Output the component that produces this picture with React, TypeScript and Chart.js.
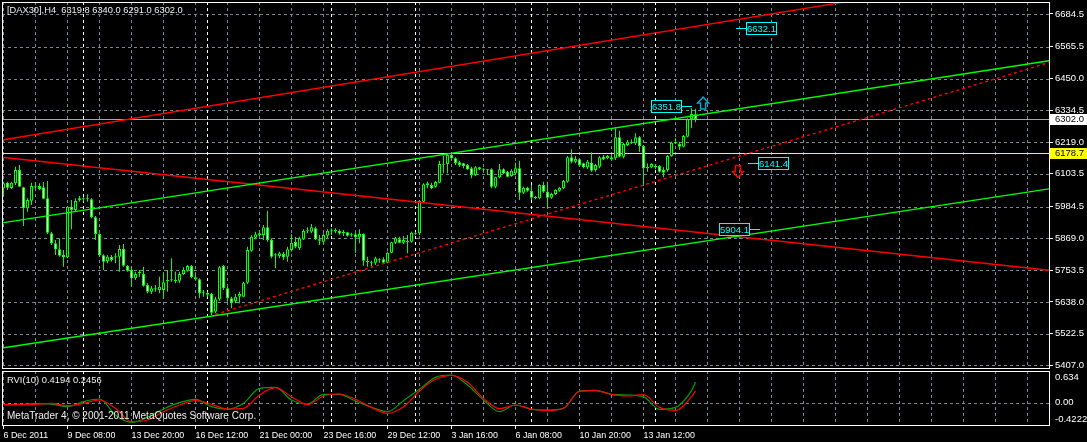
import React, { useEffect, useRef } from "react";
import { Chart, registerables } from "chart.js";

Chart.register(...registerables);

// ---------------- data ----------------
const symbolTitle = "[DAX30],H4  6319.8 6340.0 6291.0 6302.0";
const rviTitle = "RVI(10) 0.4194 0.2456";
const copyright = "MetaTrader 4, \u00a9 2001-2011 MetaQuotes Software Corp.";

const openP = [
  6050.8, 6071.4, 6052.0, 6069.0, 6117.4, 6054.4, 5978.1, 6006.0, 6059.3, 6059.3,
  6054.4, 6014.5, 5887.2, 5850.9, 5829.1, 5808.5, 5800.0, 5984.2, 5972.0, 6008.4,
  6013.2, 6010.8, 6010.8, 5945.4, 5884.8, 5807.3, 5786.6, 5802.4, 5802.4, 5802.4,
  5830.3, 5768.5, 5753.9, 5723.6, 5743.0, 5739.4, 5699.4, 5675.2, 5686.1, 5681.2,
  5681.2, 5712.7, 5718.8, 5716.4, 5715.2, 5739.4, 5751.5, 5768.5, 5727.3, 5720.0,
  5671.5, 5671.5, 5666.7, 5602.5, 5647.3, 5768.5, 5687.3, 5650.9, 5641.2, 5657.0,
  5657.0, 5707.9, 5824.2, 5871.5, 5881.2, 5881.2, 5909.0, 5863.0, 5807.3, 5804.8,
  5812.1, 5802.4, 5826.6, 5856.9, 5832.7, 5865.4, 5896.9, 5893.3, 5905.4, 5865.4,
  5856.9, 5878.7, 5896.9, 5895.7, 5895.7, 5888.4, 5890.8, 5879.9, 5883.6, 5872.7,
  5884.8, 5785.4, 5783.0, 5780.6, 5792.7, 5792.7, 5780.6, 5816.9, 5853.3, 5865.4,
  5853.3, 5858.1, 5856.9, 5888.4, 5887.2, 6002.3, 6068.9, 6062.9, 6056.8, 6071.4,
  6139.2, 6139.2, 6171.9, 6159.8, 6145.3, 6141.6, 6135.6, 6123.5, 6099.2, 6127.1,
  6121.0, 6118.6, 6119.8, 6056.8, 6090.8, 6119.8, 6111.4, 6095.6, 6105.3, 6123.5,
  6035.0, 6053.2, 6042.3, 6018.0, 6014.4, 6062.9, 6038.6, 6016.8, 6030.2, 6042.3,
  6050.8, 6075.0, 6163.5, 6147.7, 6156.2, 6141.6, 6127.1, 6144.1, 6117.4, 6129.5,
  6165.9, 6159.8, 6163.5, 6159.8, 6236.2, 6165.9, 6208.3, 6219.2, 6214.3, 6236.2,
  6204.6, 6124.7, 6127.1, 6130.7, 6131.9, 6117.4, 6117.4, 6168.3, 6215.6, 6211.9,
  6202.2, 6238.6, 6301.6, 6319.8,
];
const highP = [
  6075.0, 6075.0, 6075.0, 6129.6, 6135.6, 6056.9, 6014.5, 6071.4, 6071.4, 6069.0,
  6073.8, 6077.5, 5893.3, 5863.0, 5869.0, 5826.6, 5986.6, 6008.4, 6014.5, 6022.9,
  6018.1, 6029.0, 6014.5, 5950.2, 5887.2, 5810.9, 5808.5, 5808.5, 5814.5, 5844.8,
  5848.5, 5772.1, 5766.1, 5747.9, 5753.9, 5766.1, 5705.5, 5695.8, 5699.4, 5729.7,
  5741.8, 5753.9, 5796.3, 5747.9, 5747.9, 5763.6, 5772.1, 5772.1, 5735.8, 5723.6,
  5681.2, 5675.2, 5671.5, 5657.0, 5768.5, 5772.1, 5693.4, 5657.0, 5666.7, 5675.2,
  5711.5, 5838.8, 5881.2, 5893.3, 5899.3, 5917.5, 5969.6, 5869.0, 5814.5, 5820.6,
  5820.6, 5838.8, 5884.8, 5875.1, 5875.1, 5901.8, 5909.0, 5921.1, 5911.4, 5881.1,
  5887.2, 5901.8, 5905.4, 5905.4, 5901.8, 5899.3, 5893.3, 5889.6, 5889.6, 5901.8,
  5887.2, 5802.4, 5787.8, 5802.4, 5796.3, 5799.9, 5820.6, 5856.9, 5875.1, 5875.1,
  5877.5, 5881.1, 5893.3, 5892.1, 6008.4, 6068.9, 6075.0, 6071.4, 6078.6, 6151.3,
  6168.3, 6178.0, 6178.0, 6163.5, 6151.3, 6144.1, 6139.2, 6129.5, 6132.0, 6129.5,
  6123.5, 6121.0, 6123.5, 6093.2, 6139.2, 6123.5, 6115.0, 6119.8, 6144.1, 6151.3,
  6056.8, 6056.8, 6062.9, 6022.9, 6065.3, 6075.0, 6075.0, 6035.0, 6047.1, 6056.8,
  6081.1, 6168.3, 6192.5, 6168.3, 6159.8, 6144.1, 6153.8, 6181.6, 6139.2, 6168.3,
  6171.9, 6171.9, 6171.9, 6268.9, 6260.4, 6216.8, 6226.5, 6228.9, 6250.7, 6241.0,
  6208.3, 6141.6, 6141.6, 6139.2, 6135.6, 6127.1, 6171.9, 6220.4, 6232.5, 6220.4,
  6244.6, 6305.2, 6341.6, 6340.0,
];
const lowP = [
  6020.5, 6044.7, 6048.4, 6062.9, 6056.9, 5913.9, 5966.0, 5990.2, 6044.7, 6044.7,
  6010.8, 5884.8, 5844.8, 5808.5, 5802.4, 5766.1, 5796.3, 5901.8, 5966.0, 6002.3,
  6002.3, 6002.3, 5941.7, 5863.0, 5802.4, 5753.9, 5778.2, 5784.2, 5778.2, 5747.9,
  5766.1, 5747.9, 5693.4, 5717.6, 5729.7, 5693.4, 5669.1, 5666.7, 5675.2, 5669.1,
  5650.9, 5675.2, 5711.5, 5705.5, 5705.5, 5735.8, 5747.9, 5723.6, 5717.6, 5650.9,
  5657.0, 5657.0, 5590.4, 5596.4, 5642.5, 5681.2, 5638.8, 5614.6, 5632.8, 5632.8,
  5654.6, 5703.0, 5820.6, 5865.4, 5877.5, 5863.0, 5856.9, 5796.3, 5760.0, 5796.3,
  5790.3, 5784.2, 5820.6, 5832.7, 5826.6, 5863.0, 5887.2, 5887.2, 5863.0, 5844.8,
  5844.8, 5869.0, 5881.1, 5887.2, 5881.1, 5877.5, 5875.1, 5875.1, 5816.9, 5850.8,
  5769.7, 5766.0, 5766.0, 5772.1, 5780.6, 5775.7, 5778.1, 5814.5, 5848.4, 5850.8,
  5848.4, 5814.5, 5853.3, 5881.1, 5881.1, 5998.7, 6050.8, 6047.1, 6053.2, 6068.9,
  6105.3, 6105.3, 6156.2, 6135.6, 6129.5, 6123.5, 6117.4, 6087.1, 6095.6, 6117.4,
  6111.4, 6099.2, 6050.8, 6050.8, 6087.1, 6102.9, 6090.8, 6093.2, 6099.2, 6008.4,
  6030.2, 6038.6, 6008.4, 6010.8, 6010.8, 6035.0, 5978.1, 6013.2, 6026.5, 6038.6,
  6047.1, 6071.4, 6141.6, 6141.6, 6129.5, 6123.5, 6121.0, 6111.4, 6111.4, 6123.5,
  6153.8, 6156.2, 6151.3, 6153.8, 6163.5, 6159.8, 6204.6, 6211.9, 6208.3, 6184.1,
  6059.2, 6111.4, 6123.5, 6119.8, 6107.7, 6090.8, 6111.4, 6165.9, 6211.9, 6190.1,
  6199.8, 6236.2, 6268.9, 6291.0,
];
const closeP = [
  6069.0, 6053.2, 6071.4, 6117.4, 6056.9, 5978.1, 6008.4, 6059.3, 6056.9, 6048.4,
  6013.2, 5889.6, 5850.9, 5829.1, 5806.1, 5800.0, 5984.2, 5972.0, 6004.8, 6014.5,
  6010.8, 6013.2, 5945.4, 5884.8, 5807.3, 5784.2, 5802.4, 5790.3, 5804.8, 5830.3,
  5769.7, 5751.5, 5723.6, 5739.4, 5745.5, 5697.0, 5675.2, 5687.3, 5688.5, 5693.4,
  5709.1, 5717.6, 5716.4, 5713.9, 5739.4, 5753.9, 5768.5, 5727.3, 5720.0, 5669.1,
  5674.0, 5664.3, 5598.8, 5647.3, 5763.6, 5687.3, 5650.9, 5635.2, 5657.0, 5666.7,
  5707.9, 5826.6, 5875.1, 5883.6, 5887.2, 5909.0, 5863.0, 5802.4, 5809.7, 5814.5,
  5800.0, 5829.1, 5853.3, 5838.8, 5869.0, 5895.7, 5899.3, 5909.0, 5865.4, 5860.5,
  5881.1, 5896.9, 5894.5, 5899.3, 5887.2, 5890.8, 5878.7, 5882.3, 5872.7, 5884.8,
  5787.8, 5783.0, 5780.6, 5796.3, 5789.0, 5780.6, 5816.9, 5854.5, 5869.0, 5853.3,
  5863.0, 5855.7, 5889.6, 5886.0, 6004.7, 6065.3, 6062.9, 6050.8, 6073.8, 6139.2,
  6136.8, 6171.9, 6159.8, 6141.6, 6135.6, 6132.0, 6119.8, 6099.2, 6127.1, 6119.8,
  6118.6, 6116.2, 6056.8, 6090.8, 6119.8, 6105.3, 6093.2, 6115.0, 6123.5, 6035.0,
  6053.2, 6042.3, 6016.8, 6015.6, 6062.9, 6038.6, 6016.8, 6030.2, 6044.7, 6053.2,
  6077.4, 6163.5, 6147.7, 6157.4, 6135.6, 6127.1, 6147.7, 6115.0, 6135.6, 6163.5,
  6156.2, 6168.3, 6156.2, 6236.2, 6165.9, 6211.9, 6220.4, 6216.8, 6236.2, 6204.6,
  6123.5, 6127.1, 6139.2, 6128.3, 6111.4, 6107.7, 6168.3, 6216.8, 6218.0, 6202.2,
  6241.0, 6301.6, 6321.0, 6302.0,
];

const priceTicks = [6684.5, 6565.5, 6450.0, 6334.5, 6219.0, 6103.5, 5984.5, 5869.0, 5753.5, 5638.0, 5522.5, 5407.0];
const priceMin = 5397.7;
const priceMax = 6728.1;
const barMin = -0.375;
const barMax = 261.375;

const timeLabelBars = [0, 16, 32, 48, 64, 80, 96, 112, 128, 144, 160];
const timeLabels = [
  "6 Dec 2011", "9 Dec 08:00", "13 Dec 20:00", "16 Dec 12:00", "21 Dec 00:00", "23 Dec 16:00",
  "29 Dec 12:00", "3 Jan 16:00", "6 Jan 08:00", "10 Jan 20:00", "13 Jan 12:00",
];
const separatorBars = [20, 51, 82, 103, 132, 163];
const gridStepBars = 8;

const bidPrice = 6302.0;
const levelPrice = 6178.7;

// trend lines: start/end in (bar, price)
const trendStartBar = [-0.375, -0.375, -0.375, -0.375, 53];
const trendStartPrice = [6226.6, 5925.2, 5470.4, 6164.0, 5592.6];
const trendEndBar = [261.375, 261.375, 261.375, 261.375, 261.375];
const trendEndPrice = [6849.9, 6514.4, 6048.7, 5752.9, 6507.8];

// price labels (text boxes)
const priceLabelValues = [6632.1, 6351.8, 6141.4, 5904.1];
const priceLabelBars = [183.1, 172.1, 186.1, 189.1];
const priceLabelSide = [1, -1, 1, -1];

// arrows
const arrowBars = [174.9, 183.6];
const arrowPrices = [6361.0, 6112.0];
const arrowUp = [true, false];

// RVI(10)
const rviBars = [0, 4, 8, 12, 16, 20, 24, 28, 32, 36, 40, 44, 48, 52, 56, 60, 64, 68, 72, 76, 80, 84, 88, 92, 96, 100, 104, 108, 112, 116, 120, 124, 128, 132, 136, 140, 144, 148, 152, 156, 160, 164, 168, 172, 173];
const rviMain = [-0.025, -0.018, -0.005, -0.012, -0.064, 0.034, 0.086, -0.23, -0.370, -0.272, -0.109, 0.015, 0.080, -0.064, -0.116, 0.002, 0.295, 0.315, 0.067, -0.012, 0.178, 0.178, 0.047, -0.077, -0.161, 0.054, 0.275, 0.510, 0.556, 0.360, 0.067, -0.161, -0.031, -0.116, -0.129, -0.096, 0.243, 0.256, 0.178, 0.165, 0.132, -0.116, -0.077, 0.249, 0.4194];
const rviSignal = [-0.025, -0.025, -0.018, 0.002, -0.044, 0.002, 0.067, -0.096, -0.357, -0.324, -0.161, -0.031, 0.054, -0.018, -0.109, -0.096, 0.165, 0.308, 0.132, -0.025, 0.145, 0.184, 0.080, -0.077, -0.194, -0.064, 0.243, 0.471, 0.549, 0.412, 0.099, -0.103, -0.031, -0.109, -0.142, -0.096, 0.236, 0.249, 0.178, 0.145, 0.171, -0.077, -0.135, 0.132, 0.2456];
const rviMax = 0.634;
const rviMin = -0.4222;
const rviLabels = ["0.634", "0.00", "-0.4222"];

// ---------------- style ----------------
const W = 1087;
const MAIN_H = 369;
const SUB_TOP = 369;
const SUB_H = 73;
const AXIS_W = 38;
const FONT = "'Liberation Sans', Arial, sans-serif";
const LIME = "#00ff00";
const GRID = "#778899";
const TEXT = "#ffffff";
const DASH = [3, 3];
const BULL_FILL = "#000000";
const BEAR_FILL = "#ffffff";
const trendColors = ["#ff0000", "#00ff00", "#00ff00", "#ff0000", "#ff0000"];
const trendDash = [[], [], [], [], [3, 3]];
const labelColor = "#00ffff";
const arrowColors = ["#00a8d8", "#ff0000"];

function clipArea(ctx: any, a: any) {
  ctx.beginPath();
  ctx.rect(a.left, a.top, a.right - a.left, a.bottom - a.top);
  ctx.clip();
}

function drawGuides(chart: any, hValues: number[]) {
  const { ctx, chartArea: a, scales } = chart;
  const xs = scales.x;
  const ys = scales.y;
  ctx.save();
  clipArea(ctx, a);
  ctx.lineWidth = 1;
  ctx.setLineDash(DASH);
  ctx.strokeStyle = GRID;
  for (const v of hValues) {
    const py = Math.round(ys.getPixelForValue(v)) + 0.5;
    ctx.beginPath();
    ctx.moveTo(a.left, py);
    ctx.lineTo(a.right, py);
    ctx.stroke();
  }
  for (let b = 0; b <= xs.max; b += gridStepBars) {
    const px = Math.floor(xs.getPixelForValue(b)) + 0.5;
    ctx.beginPath();
    ctx.moveTo(px, a.top);
    ctx.lineTo(px, a.bottom);
    ctx.stroke();
  }
  ctx.strokeStyle = "#ffffff";
  for (const b of separatorBars) {
    const px = Math.floor(xs.getPixelForValue(b)) + 0.5;
    ctx.beginPath();
    ctx.moveTo(px, a.top);
    ctx.lineTo(px, a.bottom);
    ctx.stroke();
  }
  ctx.restore();
}

function drawBorder(chart: any) {
  const { ctx, chartArea: a } = chart;
  ctx.save();
  ctx.strokeStyle = "#ffffff";
  ctx.lineWidth = 1;
  ctx.setLineDash([]);
  ctx.strokeRect(a.left + 0.5, a.top + 0.5, a.right - a.left, a.bottom - a.top);
  ctx.restore();
}

function drawArrow(ctx: any, cx: number, cy: number, up: boolean, color: string) {
  const s = up ? 1 : -1;
  const total = 12;
  const head = 6;
  const hw = 5.5;
  const sw = 2.5;
  const top = cy - (s * total) / 2;
  ctx.beginPath();
  ctx.moveTo(cx, top);
  ctx.lineTo(cx + hw, top + s * head);
  ctx.lineTo(cx + sw, top + s * head);
  ctx.lineTo(cx + sw, top + s * total);
  ctx.lineTo(cx - sw, top + s * total);
  ctx.lineTo(cx - sw, top + s * head);
  ctx.lineTo(cx - hw, top + s * head);
  ctx.closePath();
  ctx.lineWidth = 1.5;
  ctx.strokeStyle = color;
  ctx.stroke();
}

const mainPlugin = {
  id: "mt4main",
  beforeDraw(chart: any) {
    const { ctx, width, height } = chart;
    ctx.save();
    ctx.fillStyle = "#000000";
    ctx.fillRect(0, 0, width, height);
    ctx.restore();
  },
  beforeDatasetsDraw(chart: any) {
    drawGuides(chart, priceTicks);
    const { ctx, chartArea: a, scales } = chart;
    ctx.save();
    clipArea(ctx, a);
    ctx.lineWidth = 1;
    let py = Math.round(scales.y.getPixelForValue(bidPrice)) + 0.5;
    ctx.strokeStyle = "#a0a8b0";
    ctx.beginPath(); ctx.moveTo(a.left, py); ctx.lineTo(a.right, py); ctx.stroke();
    py = Math.round(scales.y.getPixelForValue(levelPrice)) + 0.5;
    ctx.strokeStyle = "#ffff00";
    ctx.beginPath(); ctx.moveTo(a.left, py); ctx.lineTo(a.right, py); ctx.stroke();
    ctx.restore();
  },
  afterDraw(chart: any) {
    const { ctx, chartArea: a, scales } = chart;
    const xs = scales.x;
    const ys = scales.y;
    ctx.save();
    clipArea(ctx, a);
    ctx.font = `9.5px ${FONT}`;
    ctx.textAlign = "center";
    ctx.textBaseline = "middle";
    priceLabelValues.forEach((v, i) => {
      const ax = Math.round(xs.getPixelForValue(priceLabelBars[i]));
      const ay = Math.round(ys.getPixelForValue(v)) + 0.5;
      const bw = 31, bh = 12, gap = 10;
      const side = priceLabelSide[i];
      const bx = side > 0 ? ax + gap : ax - gap - bw;
      ctx.strokeStyle = labelColor;
      ctx.lineWidth = 1;
      ctx.beginPath();
      ctx.moveTo(ax, ay);
      ctx.lineTo(side > 0 ? bx : bx + bw, ay);
      ctx.stroke();
      ctx.fillStyle = "#000000";
      ctx.fillRect(bx, ay - bh / 2, bw, bh);
      ctx.strokeRect(bx + 0.5, ay - bh / 2, bw - 1, bh);
      ctx.fillStyle = labelColor;
      ctx.fillText(v.toFixed(1), bx + bw / 2, ay + 0.5);
    });
    arrowBars.forEach((b, i) => {
      drawArrow(ctx, xs.getPixelForValue(b), ys.getPixelForValue(arrowPrices[i]), arrowUp[i], arrowColors[i]);
    });
    ctx.restore();

    drawBorder(chart);

    ctx.save();
    ctx.font = `9.3px ${FONT}`;
    ctx.fillStyle = "#f0f0f0";
    ctx.textAlign = "left";
    ctx.textBaseline = "middle";
    ctx.fillText(symbolTitle, 7, 10.5);

    const markers = [
      { v: bidPrice, bg: "#ffffff" },
      { v: levelPrice, bg: "#ffff00" },
    ];
    ctx.font = `9.5px ${FONT}`;
    for (const m of markers) {
      const py = Math.round(ys.getPixelForValue(m.v));
      ctx.fillStyle = m.bg;
      ctx.fillRect(a.right + 1, py - 5, W - a.right - 1, 11);
      ctx.fillStyle = "#000000";
      ctx.fillText(m.v.toFixed(1), a.right + 6, py + 0.5);
    }
    ctx.restore();
  },
};

const subPlugin = {
  id: "mt4sub",
  beforeDraw(chart: any) {
    const { ctx, width, height } = chart;
    ctx.save();
    ctx.fillStyle = "#000000";
    ctx.fillRect(0, 0, width, height);
    ctx.restore();
  },
  beforeDatasetsDraw(chart: any) {
    drawGuides(chart, [0]);
  },
  afterDraw(chart: any) {
    const { ctx, chartArea: a, scales } = chart;
    drawBorder(chart);
    ctx.save();
    ctx.textAlign = "left";
    ctx.textBaseline = "middle";
    ctx.fillStyle = "#f0f0f0";
    ctx.font = `9.4px ${FONT}`;
    ctx.fillText(rviTitle, 7, a.top + 9.5);
    ctx.font = `10px ${FONT}`;
    ctx.fillText(copyright, 7, a.bottom - 8.5);
    ctx.font = `9.5px ${FONT}`;
    ctx.fillStyle = TEXT;
    const lx = a.right + 6;
    ctx.fillText(rviLabels[0], lx, a.top + 6.5);
    ctx.fillText(rviLabels[1], lx, scales.y.getPixelForValue(0) - 1);
    ctx.fillText(rviLabels[2], lx, a.bottom - 6);
    ctx.restore();
  },
};

function MainChart() {
  const ref = useRef<HTMLCanvasElement>(null);
  useEffect(() => {
    const canvas = ref.current;
    if (!canvas) return;
    const idx = openP.map((_, i) => i);
    const bodies = idx.map((i) => ({ x: i, y: [openP[i], closeP[i]] }));
    const wicks = idx.map((i) => ({ x: i, y: [lowP[i], highP[i]] }));
    const bodyFill = idx.map((i) => (closeP[i] >= openP[i] ? BULL_FILL : BEAR_FILL));
    const trendSets: any[] = trendStartBar.map((sb, k) => ({
      type: "line",
      data: [
        { x: sb, y: trendStartPrice[k] },
        { x: trendEndBar[k], y: trendEndPrice[k] },
      ],
      borderColor: trendColors[k],
      borderWidth: 1.4,
      borderDash: trendDash[k],
      pointRadius: 0,
      tension: 0,
      order: 0,
    }));
    const chart = new Chart(canvas, {
      type: "bar",
      data: {
        datasets: [
          ...trendSets,
          {
            type: "bar",
            data: bodies as any,
            backgroundColor: bodyFill,
            borderColor: LIME,
            borderWidth: 1,
            borderSkipped: false,
            barThickness: 3,
            grouped: false,
            minBarLength: 1,
            inflateAmount: 0,
            order: 1,
          } as any,
          {
            type: "bar",
            data: wicks as any,
            backgroundColor: LIME,
            borderWidth: 0,
            barThickness: 1,
            grouped: false,
            minBarLength: 1,
            inflateAmount: 0,
            order: 2,
          } as any,
        ],
      },
      options: {
        responsive: false,
        animation: false,
        events: [],
        layout: { padding: { left: 2, top: 2, right: 0, bottom: 1 } },
        plugins: { legend: { display: false }, tooltip: { enabled: false } },
        scales: {
          x: {
            type: "linear",
            min: barMin,
            max: barMax,
            offset: false,
            display: false,
            grid: { offset: false },
          },
          y: {
            type: "linear",
            position: "right",
            min: priceMin,
            max: priceMax,
            afterBuildTicks: (s: any) => {
              s.ticks = priceTicks.map((v) => ({ value: v }));
            },
            afterFit: (s: any) => {
              s.width = AXIS_W;
              s.paddingTop = 0;
              s.paddingBottom = 0;
            },
            ticks: {
              color: TEXT,
              font: { family: FONT, size: 9.5 },
              padding: 2,
              callback: (v: any) => Number(v).toFixed(1),
            },
            grid: { display: true, drawOnChartArea: false, drawTicks: true, tickLength: 4, color: "#ffffff" },
            border: { display: false },
          },
        },
      } as any,
      plugins: [mainPlugin],
    });
    return () => chart.destroy();
  }, []);
  return (
    <canvas
      ref={ref}
      width={W}
      height={MAIN_H}
      style={{ position: "absolute", left: 0, top: 0, width: W, height: MAIN_H, display: "block" }}
    />
  );
}

function RviChart() {
  const ref = useRef<HTMLCanvasElement>(null);
  useEffect(() => {
    const canvas = ref.current;
    if (!canvas) return;
    const mainData = rviBars.map((b, i) => ({ x: b, y: rviMain[i] }));
    const sigData = rviBars.map((b, i) => ({ x: b, y: rviSignal[i] }));
    const chart = new Chart(canvas, {
      type: "line",
      data: {
        datasets: [
          {
            data: sigData as any,
            borderColor: "#ff0000",
            borderWidth: 1.2,
            pointRadius: 0,
            cubicInterpolationMode: "monotone",
            order: 0,
          },
          {
            data: mainData as any,
            borderColor: "#00a000",
            borderWidth: 1.2,
            pointRadius: 0,
            cubicInterpolationMode: "monotone",
            order: 1,
          },
        ],
      },
      options: {
        responsive: false,
        animation: false,
        events: [],
        layout: { padding: { left: 2, top: 2, right: 0, bottom: 0 } },
        plugins: { legend: { display: false }, tooltip: { enabled: false } },
        scales: {
          x: {
            type: "linear",
            min: barMin,
            max: barMax,
            position: "bottom",
            afterBuildTicks: (s: any) => {
              s.ticks = timeLabelBars.map((v) => ({ value: v }));
            },
            afterFit: (s: any) => {
              s.height = SUB_H - 56;
              s.paddingLeft = 0;
              s.paddingRight = 0;
            },
            ticks: {
              color: TEXT,
              font: { family: FONT, size: 8.9 },
              align: "start",
              autoSkip: false,
              maxRotation: 0,
              minRotation: 0,
              padding: 1,
              labelOffset: 0,
              callback: (_v: any, i: number) => timeLabels[i],
            },
            grid: { display: true, drawOnChartArea: false, drawTicks: true, tickLength: 4, color: "#ffffff" },
            border: { display: false },
          },
          y: {
            type: "linear",
            position: "right",
            min: rviMin,
            max: rviMax,
            ticks: { display: false },
            grid: { display: false },
            border: { display: false },
            afterFit: (s: any) => {
              s.width = AXIS_W;
            },
          },
        },
      } as any,
      plugins: [subPlugin],
    });
    return () => chart.destroy();
  }, []);
  return (
    <canvas
      ref={ref}
      width={W}
      height={SUB_H}
      style={{ position: "absolute", left: 0, top: SUB_TOP, width: W, height: SUB_H, display: "block" }}
    />
  );
}

export default function App() {
  return (
    <div style={{ position: "fixed", left: 0, top: 0, width: W, height: 442, background: "#000000", overflow: "hidden" }}>
      <MainChart />
      <RviChart />
    </div>
  );
}
